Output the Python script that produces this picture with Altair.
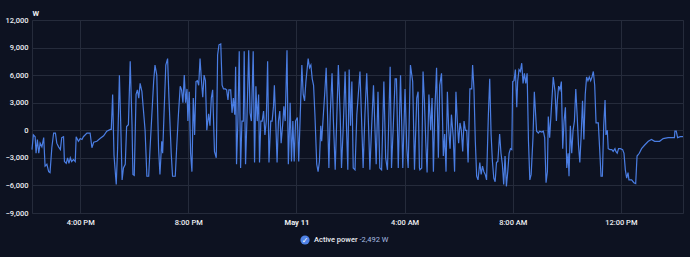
import altair as alt
import pandas as pd

# minutes after 2024-05-10 14:00 (local time)
minutes = [
    13, 16, 20, 22, 25, 28, 31, 35, 39, 42, 46, 50, 53, 57, 61, 65, 68, 72, 76, 79,
    83, 85, 89, 92, 95, 98, 101, 105, 109, 111, 116, 120, 124, 127, 135, 142, 146, 150, 157, 164,
    172, 179, 187, 189, 192, 195, 200, 203, 207, 210, 213, 216, 220, 223, 227, 231, 235, 237, 240, 244,
    247, 250, 253, 257, 260, 264, 268, 272, 275, 283, 286, 290, 294,
    297, 301, 303, 306, 310, 314, 317, 322, 325, 331, 334, 338, 342, 345, 348, 351, 354, 357, 359, 362,
    365, 368, 371, 374, 377, 380, 383, 386, 389, 392, 395, 398, 401, 405, 408, 411, 414, 418, 422, 425,
    428, 432, 435, 438, 442, 445, 448, 450, 454, 457, 460, 463, 465, 467, 470, 473, 476, 479, 482, 484,
    487, 490, 494, 497, 500, 504, 507, 510, 513, 516, 518, 521, 524, 527, 530, 533, 536, 539, 543, 546,
    549, 551, 554, 557, 560, 563, 566, 570, 572, 575, 579, 582, 585,
    586, 589, 592, 595, 598, 602, 605, 608, 612, 615, 618, 621, 624, 626, 629, 632, 635, 638, 641, 645,
    648, 651, 654, 656, 660, 663, 666, 669, 672, 675, 679, 682, 686, 689, 693, 697, 700, 704, 708, 711,
    714, 717, 720, 723, 726, 730, 734, 737, 741, 745, 748, 752, 756, 760, 763, 767, 771, 774, 777, 781,
    785, 789, 794, 798, 802, 808, 811, 815, 819, 822, 826, 831, 836, 841, 845, 848, 853, 858, 862, 867,
    870, 873,
    874, 878, 881, 884, 887, 890, 894, 898, 901, 904, 907, 911, 915, 918, 922, 926, 929, 932, 935, 938,
    941, 944, 948, 951, 954, 957, 960, 963, 966, 969, 972, 975, 978, 981, 985, 989, 991, 994, 997, 1000,
    1003, 1007, 1010, 1013, 1016, 1019, 1022, 1026, 1029, 1032, 1035, 1038, 1041, 1044, 1047, 1051, 1054, 1057, 1060, 1063,
    1066, 1069, 1072, 1075, 1078, 1080, 1083, 1086, 1089, 1091, 1094, 1097, 1100, 1103, 1106, 1109, 1112, 1115, 1118, 1121,
    1125, 1128, 1133, 1137, 1140, 1144, 1148, 1151, 1154, 1157, 1159,
    1162, 1166, 1170, 1174, 1177, 1179, 1182, 1185, 1188, 1191, 1194, 1197, 1200, 1203, 1205, 1208, 1211, 1214, 1217, 1220,
    1223, 1226, 1229, 1232, 1235, 1238, 1241, 1244, 1247, 1250, 1253, 1256, 1259, 1262, 1265, 1270, 1273, 1276, 1279, 1282,
    1285, 1287, 1290, 1292, 1296, 1300, 1303, 1307, 1309, 1312, 1315, 1319, 1324, 1327, 1330, 1333, 1336, 1338, 1344, 1349,
    1353, 1356, 1361, 1366, 1373, 1381, 1388, 1395, 1406, 1414, 1425, 1436, 1439, 1440, 1443, 1446, 1452, 1458,
]

watts = [
    -2100, -500, -700, -2500, -1000, -2500, -1400, -1800, -800, -3900, -3700, -4500, -4600, -1900, -300, -300, -1400, -1800, -2100, -800,
    -700, -3400, -3600, -3000, -3600, -3000, -3400, -3200, -3400, -700, -1200, -900, -1000, -700, -300, -300, -1900, -1300, -1200, -900,
    -600, -100, 100, 100, 3900, -2700, -5900, -2000, 6000, 600, -5400, -4100, -3700, 400, 600, 7500, 600, -4800, -4900, 3900,
    4400, 3500, 5100, 4200, 2400, 0, -5000, -5000, -2000, 5300, 7100, 6000, -2000,
    -4800, -1200, -2500, 1700, 7100, 7800, 3500, -2500, -5000, -5000, -2000, 1700, 4800, 4400, 3000, 6000, 3000, 4500, 1000, 4200,
    -2500, -4500, 3500, -500, 5300, 5400, 4900, 7800, 5500, 3600, 6000, 5400, 0, 1800, 500, 3500, 4400, -2300, -3000, 8200,
    9300, 9400, 4900, 4500, 4500, 4400, 3300, 4400, 4400, 1900, 3500, 1700, 6900, -3700, 1000, 8600, -4100, 1000, 1000, 8600,
    -3700, 1000, 8700, 1900, 1000, 8600, -3500, 4800, 1000, 3900, -3500, 1000, 1000, 2100, -500, 1000, 7500, -3500, 1000, 1000,
    2600, 4900, 1000, -3500, 1000, 2100, -1400, 1000, 2600, 1000, 8700, -3700, 1000,
    3000, -3400, 1000, -3400, 1000, 1400, -3400, 1000, 7100, 3900, 3200, 5300, 6800, 7800, 6800, 7100, 5600, 4900, 1700, -3700,
    -4500, -3400, 500, -1200, 1900, 4200, 6800, 1700, -4100, 1700, 6200, 1000, -4300, 500, 7100, 1700, -4100, 500, 6400, 500,
    -4300, 6600, 500, 5300, -4100, -4300, 1700, 3700, 6400, 500, -4100, 1700, 6200, 500, -4300, 500, 4900, 500, -3700, 4200,
    -4100, -4300, 5300, -3000, -4300, 6900, -4100, 500, 5600, 5600, -4100, 6000, -4100, 4500, -2000, -4100, 7100, 5300, -4300, 3500,
    4200, -4100,
    -4300, -4100, 6400, 3200, -1200, -4600, 3900, 0, 3500, -4500, 1900, 6800, -3000, 4900, 6200, -2800, -400, -4500, 4200, 0,
    -2000, 1700, -700, -4500, 4200, 1000, -1400, 800, 0, -2300, 1000, 0, 0, -3500, 4500, 4500, 7100, 4500, -1200, -5000,
    -5400, -3500, -4800, -3900, -4500, -4800, -5400, 1700, 5600, -400, -3400, -5200, -5600, -3500, -3400, -400, -2500, -3700, -5900, -2800,
    -6100, -4500, -2500, -2000, -2100, 5300, 5400, 6600, 2500, 5300, 6600, 6400, 7300, 5100, 6200, 5100, 6200, -1200, -5400, -4800,
    -800, 4200, -100, -300, -100, -200, -100, -800, -5700, -4500, 1500,
    -800, 2500, 5800, 4200, 1000, 3200, 4800, 4400, 5300, -2000, 1000, 2500, -4100, -2500, -5000, 500, -2500, 0, 1000, 4500,
    1700, -1600, -3500, -500, 3200, -1000, 3900, 5800, 5400, 5800, 5400, 5800, 6400, 4900, 800, 800, -2000, -5000, -5000, 500,
    3300, -500, 0, -2000, -2100, -2100, -2300, -2000, -2300, -2500, -2000, -2000, -2100, -2500, -4300, -5200, -4600, -5400, -5400, -5700,
    -5800, -2800, -2500, -2000, -1600, -1200, -1000, -1200, -1200, -900, -800, -800, -800, -100, -100, -800, -700, -700,
]

y_ticks = [-9000, -6000, -3000, 0, 3000, 6000, 9000, 12000]
x_ticks = ["2024-05-10 16:00", "2024-05-10 20:00", "2024-05-11 00:00",
           "2024-05-11 04:00", "2024-05-11 08:00", "2024-05-11 12:00"]
x_domain = ["2024-05-10 14:13", "2024-05-11 14:18"]
legend_label = "Active power"
legend_value = "-2,492 W"
unit = "W"

BG = "#0d1221"
GRID = "#252b3b"
LINE = "#4a7de2"
TEXT = "#eceef2"
FONT = "Roboto"
FS = 7.5


def to_dt(s):
    t = pd.Timestamp(s)
    return alt.DateTime(year=t.year, month=t.month, date=t.day, hours=t.hour, minutes=t.minute)


base = pd.Timestamp("2024-05-10 14:00")
df = pd.DataFrame({
    "time": [(base + pd.Timedelta(minutes=m)).strftime("%Y-%m-%dT%H:%M:%S") for m in minutes],
    "power": watts,
})

line = alt.Chart(df).mark_line(color=LINE, strokeWidth=1.2, interpolate="linear").encode(
    x=alt.X(
        "time:T",
        scale=alt.Scale(domain=[to_dt(s) for s in x_domain], nice=False),
        axis=alt.Axis(
            values=[to_dt(s) for s in x_ticks],
            labelExpr="hours(datum.value) == 0 ? timeFormat(datum.value, '%b %-d') : timeFormat(datum.value, '%-I:%M %p')",
            labelFontWeight={"condition": {"test": "hours(datum.value) == 0", "value": "bold"}, "value": 500},
            grid=True, gridColor=GRID, gridWidth=1,
            ticks=False, domain=False,
            labelColor=TEXT, labelFont=FONT, labelFontSize=FS,
            labelPadding=5, labelFlush=False, labelOverlap=False,
            title=None,
        ),
    ),
    y=alt.Y(
        "power:Q",
        scale=alt.Scale(domain=[-9000, 12000], nice=False, zero=False),
        axis=alt.Axis(
            values=y_ticks,
            labelExpr="format(datum.value, ',.0f')",
            grid=True, gridColor=GRID, gridWidth=1,
            ticks=False, domain=False,
            labelColor=TEXT, labelFont=FONT, labelFontSize=FS, labelFontWeight=500, labelPadding=4,
            title=unit, titleAngle=0, titleAlign="left", titleBaseline="alphabetic",
            titleX=0, titleY=-5, titleColor=TEXT, titleFont=FONT,
            titleFontSize=FS, titleFontWeight="bold",
        ),
    ),
)

leg = pd.DataFrame({"label": [legend_label], "value": [legend_value]})

icon = alt.Chart(leg).mark_point(filled=True, shape="circle", size=85, color="#4f82e6", opacity=1).encode(
    x=alt.value(273), y=alt.value(220)
)
check = alt.Chart(leg).mark_text(text="✓", color="white", fontSize=8, fontWeight="bold",
                                 font="DejaVu Sans", align="center", baseline="middle").encode(
    x=alt.value(273), y=alt.value(220.5)
)
label_text = alt.Chart(leg).mark_text(color=TEXT, fontSize=FS, fontWeight=500, font=FONT,
                                      align="left", baseline="middle").encode(
    x=alt.value(282), y=alt.value(220), text="label:N"
)
value_text = alt.Chart(leg).mark_text(color="#a9bde2", fontSize=FS, font=FONT, align="left", baseline="middle").encode(
    x=alt.value(327.5), y=alt.value(220), text="value:N"
)

chart = alt.layer(line, icon, check, label_text, value_text).properties(
    width=651, height=193,
    background=BG,
    padding={"left": 32, "top": 20, "right": 7, "bottom": 44},
    autosize=alt.AutoSizeParams(type="none"),
).configure_view(stroke=GRID, strokeWidth=1)

chart.save("out.html", embed_options={"renderer": "svg", "actions": False})
